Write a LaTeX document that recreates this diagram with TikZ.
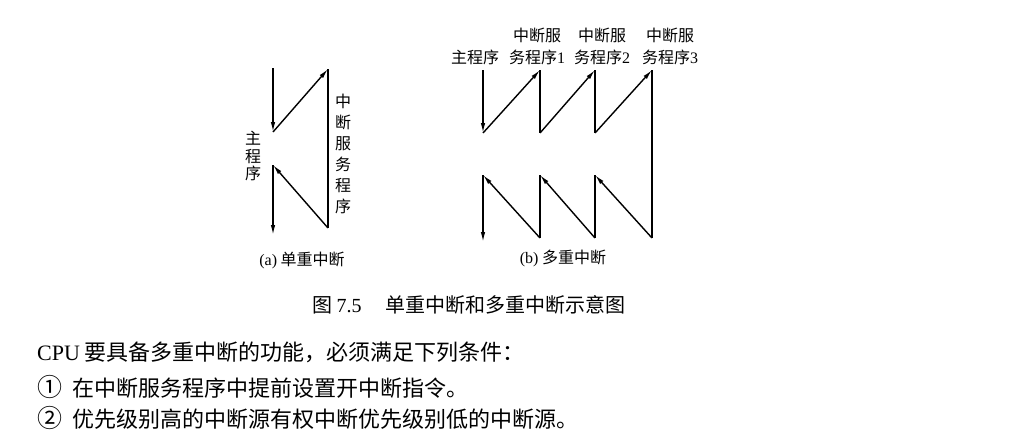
\documentclass[tikz,border=0pt]{standalone}
\usepackage{fontspec}
\setmainfont{Liberation Serif}
\newfontfamily\cjk{Noto Sans CJK SC}
\usetikzlibrary{arrows.meta}
\tikzset{>={Latex[length=10pt,width=4.5pt]}}
\tikzset{
  flow/.style={line width=1.4pt},
  lbl/.style={font=\fontsize{16}{22}\selectfont\cjk, inner sep=0pt, align=center},
  body/.style={font=\fontsize{22}{22}\selectfont\cjk, inner sep=0pt, anchor=west},
}
\newcommand\circnum[1]{{\fontsize{25}{25}\selectfont #1}\hspace{0.45em}}
\begin{document}
\begin{tikzpicture}[x=1pt,y=-1pt]
            \useasboundingbox (0,0) rectangle (1019,440);
            % (a) single interrupt
            \coordinate (a0) at (273,68);
            \coordinate (a1) at (273,132);
            \coordinate (a2) at (328,69);
            \coordinate (a3) at (328,228);
            \coordinate (a4) at (273,165);
            \coordinate (a5) at (273,235);
            \draw[flow,->] (a0) -- (a1);
            \draw[flow,->] (a1) -- (a2);
            \draw[flow] (a2) -- (a3);
            \draw[flow,->] (a3) -- (a4);
            \draw[flow,->] (a4) -- (a5);
            \node[lbl,font=\fontsize{16}{17.5}\selectfont\cjk] (amain) at (253,156) {主\\程\\序};
            \node[lbl,font=\fontsize{16}{21}\selectfont\cjk] (aserv) at (343,154) {中\\断\\服\\务\\程\\序};
            \node[lbl] (capa) at (302,260) {{\rmfamily (a)} 单重中断};
            % (b) nested interrupts
            \coordinate (b0) at (483,70);
            \coordinate (b1) at (483,133);
            \coordinate (p1) at (540,70);
            \coordinate (q1) at (540,133);
            \coordinate (p2) at (595,70);
            \coordinate (q2) at (595,133);
            \coordinate (p3) at (652,70);
            \coordinate (q3) at (652,238);
            \coordinate (r2) at (595,175);
            \coordinate (s2) at (595,238);
            \coordinate (r1) at (540,175);
            \coordinate (s1) at (540,238);
            \coordinate (r0) at (483,175);
            \coordinate (s0) at (483,242);
            \draw[flow,->] (b0) -- (b1);
            \draw[flow,->] (b1) -- (p1);
            \draw[flow] (p1) -- (q1);
            \draw[flow,->] (q1) -- (p2);
            \draw[flow] (p2) -- (q2);
            \draw[flow,->] (q2) -- (p3);
            \draw[flow] (p3) -- (q3);
            \draw[flow,->] (q3) -- (r2);
            \draw[flow] (r2) -- (s2);
            \draw[flow,->] (s2) -- (r1);
            \draw[flow] (r1) -- (s1);
            \draw[flow,->] (s1) -- (r0);
            \draw[flow,->] (r0) -- (s0);
            \node[lbl] (bmain) at (475,57) {主程序};
            \node[lbl] (bserv1) at (537,46) {中断服\\务程序{\rmfamily 1}};
            \node[lbl] (bserv2) at (602,46) {中断服\\务程序{\rmfamily 2}};
            \node[lbl] (bserv3) at (670,46) {中断服\\务程序{\rmfamily 3}};
            \node[lbl] (capb) at (563,258) {{\rmfamily (b)} 多重中断};
            % caption and text
            \node[font=\fontsize{20}{20}\selectfont\cjk, inner sep=0pt, anchor=west] (fig) at (312,305) {图 {\rmfamily 7.5}\hspace{1.2em}单重中断和多重中断示意图};
            \node[body] (line1) at (37,352) {{\rmfamily CPU} 要具备多重中断的功能，必须满足下列条件：};
            \node[body] (line2) at (37,387) {\circnum{①}在中断服务程序中提前设置开中断指令。};
            \node[body] (line3) at (37,418) {\circnum{②}优先级别高的中断源有权中断优先级别低的中断源。};
        \end{tikzpicture}
\end{document}
